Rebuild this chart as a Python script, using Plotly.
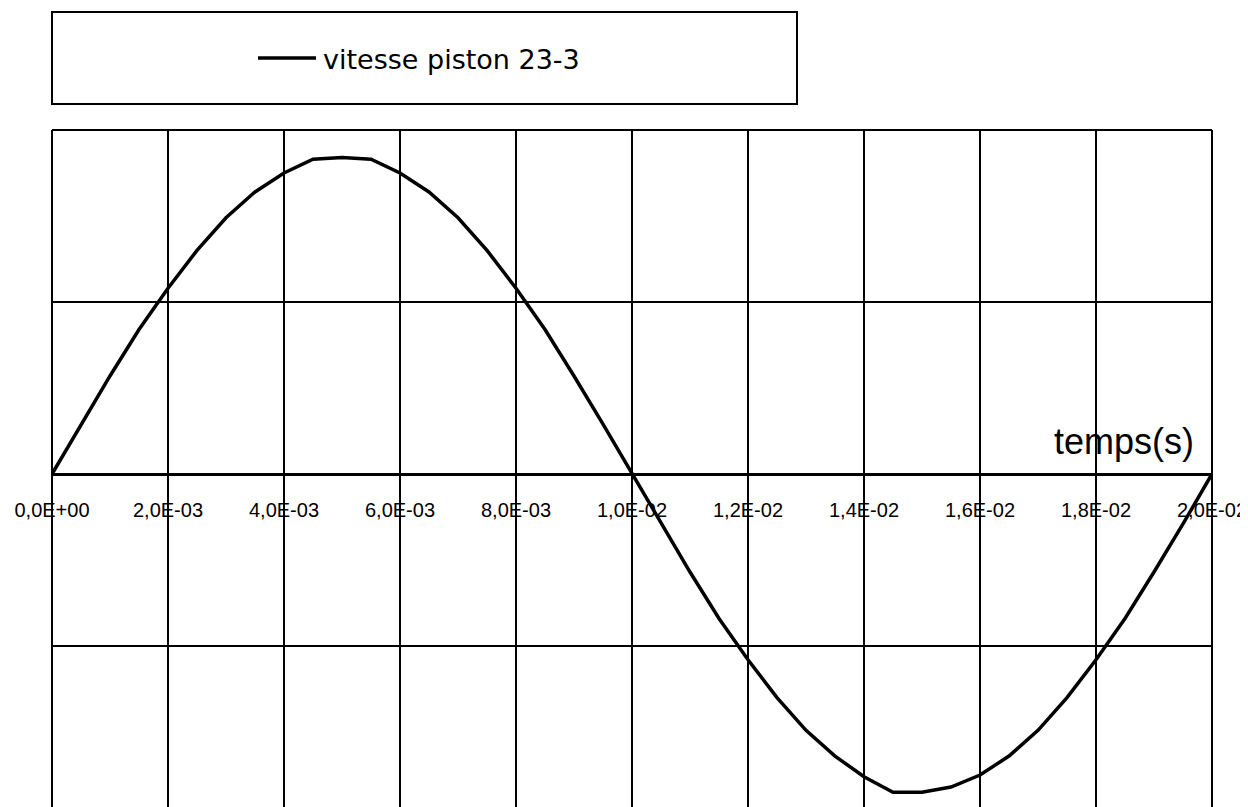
import plotly.graph_objects as go

# ---- data ----
series_name = "vitesse piston 23-3"
axis_title = "temps(s)"

t_s = [0.0, 0.0005, 0.001, 0.0015, 0.002, 0.0025, 0.003, 0.0035, 0.004, 0.0045,
       0.005, 0.0055, 0.006, 0.0065, 0.007, 0.0075, 0.008, 0.0085, 0.009, 0.0095,
       0.01, 0.0105, 0.011, 0.0115, 0.012, 0.0125, 0.013, 0.0135, 0.014, 0.0145,
       0.015, 0.0155, 0.016, 0.0165, 0.017, 0.0175, 0.018, 0.0185, 0.019, 0.0195,
       0.02]
speed = [0.0, 0.29, 0.57, 0.84, 1.08, 1.30, 1.49, 1.64, 1.75, 1.83,
         1.84, 1.83, 1.75, 1.64, 1.49, 1.30, 1.08, 0.84, 0.57, 0.29,
         0.0, -0.29, -0.57, -0.84, -1.08, -1.30, -1.49, -1.64, -1.76, -1.85,
         -1.85, -1.82, -1.75, -1.64, -1.49, -1.30, -1.08, -0.84, -0.57, -0.29,
         0.0]

x_ticks = [0.0, 0.002, 0.004, 0.006, 0.008, 0.010, 0.012, 0.014, 0.016, 0.018, 0.020]
x_tick_labels = ["0,0E+00", "2,0E-03", "4,0E-03", "6,0E-03", "8,0E-03", "1,0E-02",
                 "1,2E-02", "1,4E-02", "1,6E-02", "1,8E-02", "2,0E-02"]

Y_MIN, Y_MAX = -1.936, 2.0

fig = go.Figure()
fig.add_trace(go.Scatter(
    x=t_s, y=speed, mode="lines", name=series_name, showlegend=False,
    line=dict(color="black", width=3.5),
))

# the page body has an 8px margin: size the figure so it lands on the window
OFF = 8
W, H = 1248 - OFF, 807 - OFF
ML, MR, MT, MB = 52 - OFF, 1248 - 1212, 130 - OFF, 0
PW, PH = W - ML - MR, H - MT - MB


def px(xp):
    """reference window x pixel -> paper fraction"""
    return (xp - OFF - ML) / PW


def py(yp):
    """reference window y pixel -> paper fraction"""
    return (H - MB - (yp - OFF)) / PH


shapes = [
    # plot frame (left, top, right)
    dict(type="line", xref="paper", yref="paper", x0=0, x1=0, y0=0, y1=1,
         line=dict(color="black", width=2)),
    dict(type="line", xref="paper", yref="paper", x0=0, x1=1, y0=1, y1=1,
         line=dict(color="black", width=2)),
    dict(type="line", xref="paper", yref="paper", x0=1, x1=1, y0=0, y1=1,
         line=dict(color="black", width=2)),
    # legend box
    dict(type="rect", xref="paper", yref="paper", x0=px(52), x1=px(797),
         y0=py(104), y1=py(12), line=dict(color="black", width=2),
         fillcolor="rgba(0,0,0,0)"),
    # legend line sample
    dict(type="line", xref="paper", yref="paper", x0=px(258), x1=px(316),
         y0=py(58), y1=py(58), line=dict(color="black", width=3.5)),
]

annotations = [
    dict(text=series_name, xref="paper", yref="paper", x=px(321), y=py(59),
         xanchor="left", yanchor="middle", showarrow=False,
         font=dict(family="DejaVu Sans", size=27, color="black")),
    dict(text=axis_title, xref="paper", yref="paper", x=px(1124), y=py(441),
         xanchor="center", yanchor="middle", showarrow=False,
         font=dict(family="Liberation Sans", size=36, color="black")),
]

fig.update_layout(
    width=W, height=H,
    margin=dict(l=ML, r=MR, t=MT, b=MB, pad=0),
    paper_bgcolor="white", plot_bgcolor="white",
    showlegend=False,
    shapes=shapes, annotations=annotations,
    xaxis=dict(
        range=[0, 0.02], tickvals=x_ticks, ticktext=x_tick_labels,
        showgrid=True, gridcolor="black", gridwidth=2,
        zeroline=False, showline=False,
        anchor="free", position=(0 - Y_MIN) / (Y_MAX - Y_MIN),
        ticks="outside", ticklen=18, tickcolor="rgba(0,0,0,0)",
        tickfont=dict(family="Liberation Sans", size=20, color="black"),
    ),
    yaxis=dict(
        range=[Y_MIN, Y_MAX], tick0=0, dtick=1,
        showticklabels=False, ticks="",
        showgrid=True, gridcolor="black", gridwidth=2,
        zeroline=True, zerolinecolor="black", zerolinewidth=2.5,
        showline=False,
    ),
)

fig.write_html("out.html")
